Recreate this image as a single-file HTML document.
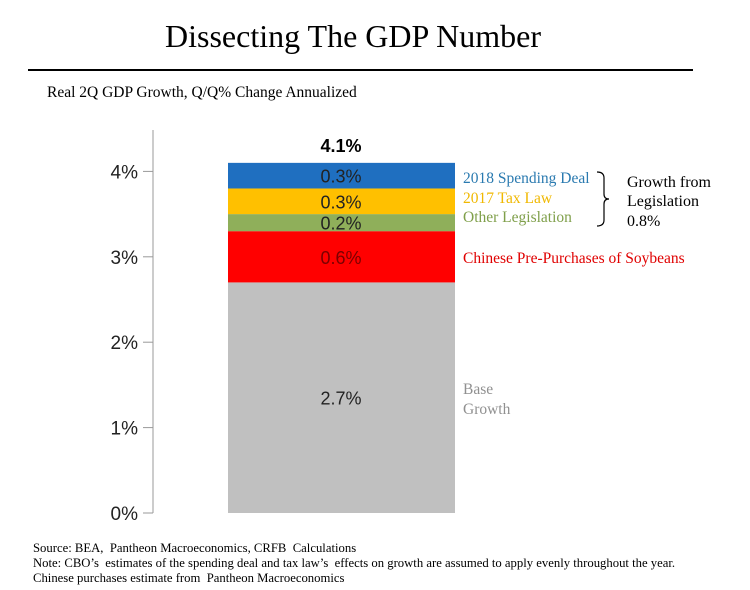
<!DOCTYPE html>
<html><head><meta charset="utf-8"><style>
body{margin:0;background:#fff;width:750px;height:590px;overflow:hidden;position:relative;font-family:"Liberation Serif",serif}
.t{position:absolute;white-space:nowrap}
</style></head><body>
<div class="t" style="left:0;width:706px;text-align:center;top:18px;font-size:32px;color:#000">Dissecting The GDP Number</div>
<div style="position:absolute;left:28px;top:69px;width:665px;height:2px;background:#000"></div>
<div class="t" style="left:47px;top:84px;font-size:15.5px">Real 2Q GDP Growth, Q/Q% Change Annualized</div>
<svg id="c" width="750" height="590" style="position:absolute;left:0;top:0"></svg>
<div class="t" style="left:33px;top:541px;font-size:12.7px;line-height:15px">Source: BEA,&nbsp; Pantheon Macroeconomics, CRFB&nbsp; Calculations<br>Note: CBO’s&nbsp; estimates of the spending deal and tax law’s&nbsp; effects on growth are assumed to apply evenly throughout the year.<br>Chinese purchases estimate from&nbsp; Pantheon Macroeconomics</div>
<script>
const categories=["Base Growth","Chinese Pre-Purchases of Soybeans","Other Legislation","2017 Tax Law","2018 Spending Deal"];
const values=[2.7,0.6,0.2,0.3,0.3];
const labels=["2.7%","0.6%","0.2%","0.3%","0.3%"];
const colors=["#c0c0c0","#ff0000","#8faf5a","#ffc000","#1f6fc0"];
const legendColors=["#909090","#e00000","#7f9f4a","#f0b800","#2a7ab0"];
const ticks=[0,1,2,3,4];
const total="4.1%";
const NS="http://www.w3.org/2000/svg";
const svg=document.getElementById('c');
const y=v=>513-v*85.4;
function el(t,a,txt){const e=document.createElementNS(NS,t);for(const k in a)e.setAttribute(k,a[k]);if(txt!==undefined)e.textContent=txt;svg.appendChild(e);return e;}
let ax=el('line',{x1:153,x2:153,y1:130,y2:513,stroke:'#999'});


ticks.forEach(t=>{
 let l=el('line',{x1:143,x2:153,y1:y(t),y2:y(t),stroke:'#999'});
 
 
 let tx=el('text',{x:138,y:y(t)+7,'text-anchor':'end','font-size':19,'font-family':'Liberation Sans,sans-serif',fill:'#222'},t+'%');
 
 
});
let cum=0;
values.forEach((v,i)=>{
 const r=el('rect',{x:228,width:227,y:y(cum+v),height:y(cum)-y(cum+v),fill:colors[i]});
 
 
 const mid=(y(cum)+y(cum+v))/2;
 const tx=el('text',{x:341,y:mid+7,'text-anchor':'middle','font-size':18,'font-family':'Liberation Sans,sans-serif',fill:i==1?'#7a0000':'#222'},labels[i]);
 
 
 cum+=v;
});
let tt=el('text',{x:341,y:y(cum)-11,'text-anchor':'middle','font-size':18,'font-weight':'bold','font-family':'Liberation Sans,sans-serif'},total);


const legY=[410,263,222,203,183];
categories.forEach((c,i)=>{
 if(i==0){
  let a=el('text',{x:463,y:394,'font-size':15.5,fill:legendColors[0]},'Base');
  
  
  let b=el('text',{x:463,y:414,'font-size':15.5,fill:legendColors[0]},'Growth');
  
  
  return;
 }
 let t=el('text',{x:463,y:legY[i],'font-size':i==1?15.5:15.5,fill:legendColors[i]},c);
 
 
});
let br=el('path',{d:'M597,172 Q604,172 604,178 L604,194 Q604,199 609,199 Q604,199 604,204 L604,220 Q604,226 597,226',fill:'none',stroke:'#000','stroke-width':1.2});


[['Growth from',187],['Legislation',206],['0.8%',226]].forEach(([s,yy])=>{
 let t=el('text',{x:627,y:yy,'font-size':16,fill:'#000'},s);
 
 
});
</script>
</body></html>
